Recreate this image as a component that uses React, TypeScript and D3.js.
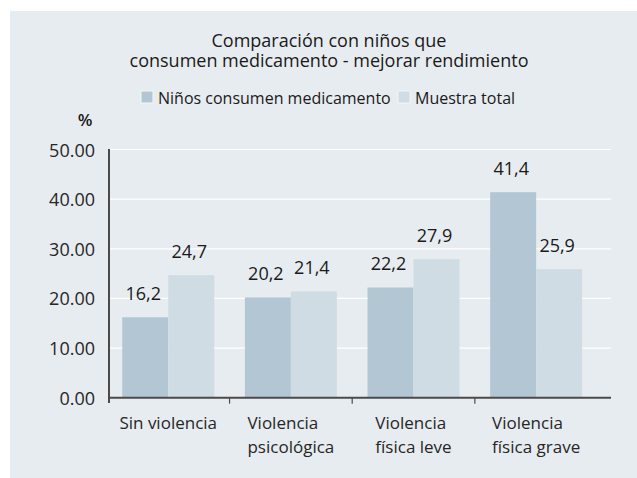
import React, { useEffect, useRef } from "react";
import * as d3 from "d3";

const title = ["Comparación con niños que", "consumen medicamento - mejorar rendimiento"];
const categories = ["Sin violencia", "Violencia psicológica", "Violencia física leve", "Violencia física grave"];
const categoryLines = [["Sin violencia"], ["Violencia", "psicológica"], ["Violencia", "física leve"], ["Violencia", "física grave"]];
const seriesNames = ["Niños consumen medicamento", "Muestra total"];
const medicamento = [16.2, 20.2, 22.2, 41.4];
const muestraTotal = [24.7, 21.4, 27.9, 25.9];
const yTicks = [0, 10, 20, 30, 40, 50];
const colors = ["#b3c6d3", "#d0dce4"];

const W = 637;
const H = 478;
const FONT = "'Open Sans', 'Noto Sans', sans-serif";

export default function App() {
  const ref = useRef<SVGSVGElement | null>(null);

  useEffect(() => {
    const svg = d3.select(ref.current);
    svg.selectAll("*").remove();

    svg.append("rect").attr("x", 10).attr("y", 11).attr("width", W - 10).attr("height", H - 11).attr("fill", "#e7ecf0");

    const x0 = 109;
    const xEnd = 611;
    const y = d3.scaleLinear().domain([0, 50]).range([397.7, 149.5]);
    const x = d3.scaleBand<string>().domain(categories).range([109, 595.4]).paddingInner(0.25).paddingOuter(0.108);
    const xs = d3.scaleBand<string>().domain(seriesNames).range([0, x.bandwidth()]).padding(0);

    // title
    const t = svg.append("text").attr("text-anchor", "middle").attr("font-family", FONT).attr("font-size", 18).attr("fill", "#1a1a1a");
    title.forEach((line, i) => {
      t.append("tspan").attr("x", 329).attr("y", 46.5 + i * 20.5).text(line);
    });

    // legend
    const legendX = [141, 398];
    seriesNames.forEach((name, i) => {
      svg.append("rect").attr("x", legendX[i]).attr("y", 91).attr("width", 12).attr("height", 12)
        .attr("fill", colors[i]).attr("stroke", "#f4f6f8").attr("stroke-width", 1);
      svg.append("text").attr("x", legendX[i] + 17).attr("y", 103.5).attr("font-family", FONT).attr("font-size", 16)
        .attr("fill", "#1a1a1a").text(name);
    });

    // % label
    svg.append("text").attr("x", 85).attr("y", 126).attr("text-anchor", "middle").attr("font-family", FONT)
      .attr("font-size", 17).attr("font-weight", 600).attr("fill", "#1a1a1a").text("%");

    // gridlines
    svg.append("g").selectAll("line").data(yTicks.filter((d) => d > 0)).join("line")
      .attr("x1", x0).attr("x2", xEnd).attr("y1", (d) => y(d)).attr("y2", (d) => y(d))
      .attr("stroke", "#ffffff").attr("stroke-width", 1.2);

    // y tick labels
    svg.append("g").selectAll("text").data(yTicks).join("text")
      .attr("x", 95).attr("y", (d) => y(d)).attr("dy", 7).attr("text-anchor", "end")
      .attr("font-family", FONT).attr("font-size", 18).attr("fill", "#262626")
      .text((d) => d3.format(".2f")(d));

    // bars
    const data = categories.map((c, i) => ({ c, vals: [medicamento[i], muestraTotal[i]] }));
    const groups = svg.append("g").selectAll("g").data(data).join("g")
      .attr("transform", (d) => `translate(${x(d.c)},0)`);
    groups.selectAll("rect").data((d) => d.vals.map((v, j) => ({ v, s: seriesNames[j], j }))).join("rect")
      .attr("x", (d) => xs(d.s) as number).attr("width", xs.bandwidth())
      .attr("y", (d) => y(d.v)).attr("height", (d) => y(0) - y(d.v))
      .attr("fill", (d) => colors[d.j]);
    groups.selectAll("text.val").data((d) => d.vals.map((v, j) => ({ v, s: seriesNames[j], j }))).join("text")
      .attr("class", "val")
      .attr("x", (d) => (xs(d.s) as number) + xs.bandwidth() / 2 - 2)
      .attr("y", (d) => y(d.v) - 17)
      .attr("text-anchor", "middle").attr("font-family", FONT).attr("font-size", 18).attr("font-weight", 500)
      .attr("fill", "#1a1a1a")
      .text((d) => d3.format(".1f")(d.v).replace(".", ","));

    // axes
    svg.append("line").attr("x1", x0).attr("x2", x0).attr("y1", 149).attr("y2", 403)
      .attr("stroke", "#4a4a4a").attr("stroke-width", 2);
    svg.append("line").attr("x1", x0 - 1).attr("x2", xEnd).attr("y1", y(0)).attr("y2", y(0))
      .attr("stroke", "#4a4a4a").attr("stroke-width", 2);
    const step = x.step();
    categories.slice(1).forEach((c) => {
      const tx = (x(c) as number) - (step - x.bandwidth()) / 2;
      svg.append("line").attr("x1", tx).attr("x2", tx).attr("y1", y(0)).attr("y2", y(0) + 6)
        .attr("stroke", "#4a4a4a").attr("stroke-width", 1.2);
    });

    // x labels: left-aligned block centered on group
    categories.forEach((c, i) => {
      const cx = (x(c) as number) + x.bandwidth() / 2;
      const g = svg.append("text").attr("font-family", FONT).attr("font-size", 17).attr("fill", "#262626");
      const lines = categoryLines[i];
      const spans = lines.map((ln, k) => g.append("tspan").attr("y", 429 + k * 24).text(ln));
      const widths = spans.map((s) => (s.node() as SVGTSpanElement).getComputedTextLength());
      const maxW = Math.max(...widths);
      spans.forEach((s) => s.attr("x", cx - maxW / 2));
    });
  }, []);

  return (
    <div style={{ position: "absolute", left: 0, top: 0 }}>
      <svg ref={ref} width={W} height={H} style={{ display: "block" }} />
    </div>
  );
}
